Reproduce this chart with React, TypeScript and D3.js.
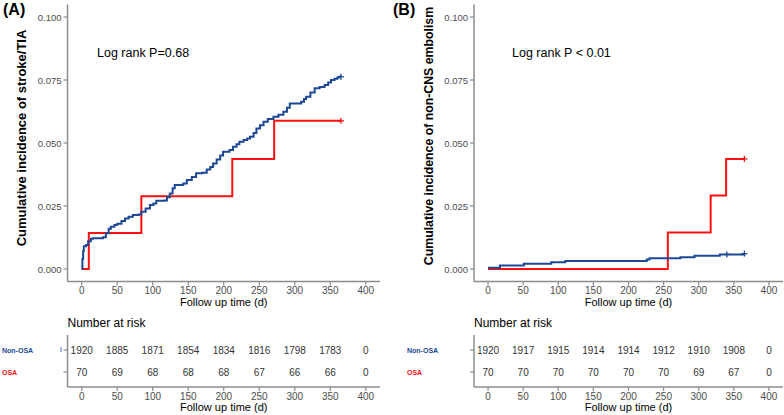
import React from "react";
import * as d3 from "d3";

// ---------- DATA ----------
const xTicks = [0, 50, 100, 150, 200, 250, 300, 350, 400];
const yTicks = [0, 0.025, 0.05, 0.075, 0.1];
const groups = ["Non-OSA", "OSA"];

// Panel A: stroke/TIA
const A_nonOSA_t = [0, 1, 2, 3, 6, 9, 13, 16, 30, 34, 38, 41, 46, 50, 56, 61, 66, 72, 80, 84, 90, 96, 101, 105, 117, 120, 124, 128, 131, 143, 148, 155, 161, 170, 176, 181, 185, 190, 195, 199, 208, 213, 218, 222, 228, 233, 237, 242, 246, 251, 256, 262, 270, 277, 284, 289, 293, 309, 313, 316, 322, 328, 335, 342, 347, 351, 356, 360, 362, 365];
const A_nonOSA_v = [0, 0.004, 0.007, 0.009, 0.0095, 0.011, 0.012, 0.0122, 0.0126, 0.0142, 0.016, 0.0168, 0.0175, 0.018, 0.019, 0.02, 0.0207, 0.0214, 0.0216, 0.0227, 0.024, 0.0254, 0.026, 0.0271, 0.0272, 0.0285, 0.03, 0.032, 0.0333, 0.0339, 0.0353, 0.0365, 0.038, 0.0382, 0.0395, 0.0405, 0.0419, 0.0435, 0.045, 0.0465, 0.0472, 0.0485, 0.0495, 0.0505, 0.0512, 0.0518, 0.0525, 0.054, 0.0558, 0.057, 0.0584, 0.0595, 0.0604, 0.0612, 0.0624, 0.064, 0.0657, 0.0664, 0.0675, 0.0684, 0.07, 0.0717, 0.0722, 0.073, 0.074, 0.075, 0.0755, 0.076, 0.0763, 0.0763];
const A_OSA_t = [0, 10, 84, 212, 271, 365];
const A_OSA_v = [0, 0.0143, 0.0289, 0.0437, 0.0588, 0.0588];
const A_censor_nonOSA = [365];
const A_censor_OSA = [365];
const A_risk_nonOSA = ["1920", "1885", "1871", "1854", "1834", "1816", "1798", "1783", "0"];
const A_risk_OSA = ["70", "69", "68", "68", "68", "67", "66", "66", "0"];

// Panel B: non-CNS embolism
const B_nonOSA_t = [0, 17, 51, 90, 110, 226, 230, 274, 294, 330, 365];
const B_nonOSA_v = [0.0005, 0.0014, 0.0021, 0.0027, 0.0032, 0.0038, 0.0043, 0.0047, 0.0053, 0.0058, 0.0061];
const B_OSA_t = [0, 256, 317, 339, 365];
const B_OSA_v = [0, 0.0145, 0.0292, 0.0437, 0.0437];
const B_censor_nonOSA = [340, 365];
const B_censor_OSA = [365];
const B_risk_nonOSA = ["1920", "1917", "1915", "1914", "1914", "1912", "1910", "1908", "0"];
const B_risk_OSA = ["70", "70", "70", "70", "70", "70", "69", "67", "0"];

const BLUE = "#1c4896";
const RED = "#ff1010";
const AXIS = "#8c8c8c";
const TICKTXT = "#4d4d4d";
const FONT = "'Liberation Sans', Arial, sans-serif";

type PanelProps = {
  letter: string;
  letterX: number;
  axisX: number;
  xEnd: number;
  yTitle: string;
  yTitleX: number;
  yTitleY: number;
  yTitleSize: number;
  logRank: string;
  logRankX: number;
  blueT: number[]; blueV: number[];
  redT: number[]; redV: number[];
  blueCensor: number[]; redCensor: number[];
  riskBlue: string[]; riskRed: string[];
  labelX: number;
  blueTick: boolean;
};

function Panel(p: PanelProps) {
  const x = d3.scaleLinear().domain([-20, 420]).range([p.axisX, p.xEnd]);
  const y = d3.scaleLinear().domain([-0.005, 0.105]).range([281.6, 4.4]);
  const rowY = d3.scalePoint<string>().domain(groups).range([350, 372]);
  const line = d3.line<[number, number]>().x(d => x(d[0])).y(d => y(d[1])).curve(d3.curveStepAfter);
  const bluePts = p.blueT.map((t, i) => [t, p.blueV[i]] as [number, number]);
  const redPts = p.redT.map((t, i) => [t, p.redV[i]] as [number, number]);
  const valAt = (ts: number[], vs: number[], t: number) => {
    let v = vs[0];
    ts.forEach((tt, i) => { if (tt <= t) v = vs[i]; });
    return v;
  };
  const plus = (cx: number, cy: number, col: string, k: string) => (
    <g key={k} stroke={col} strokeWidth={1.3}>
      <line x1={cx - 3} x2={cx + 3} y1={cy} y2={cy} />
      <line x1={cx} x2={cx} y1={cy - 3} y2={cy + 3} />
    </g>
  );
  return (
    <g fontFamily={FONT}>
      <text x={p.letterX} y={15} fontSize={16} fontWeight="bold" fill="#000">{p.letter}</text>
      {/* y title */}
      <text transform={`translate(${p.yTitleX},${p.yTitleY}) rotate(-90)`} textAnchor="middle" fontSize={p.yTitleSize} fontWeight="bold" fill="#000">{p.yTitle}</text>
      {/* axes */}
      <line x1={p.axisX} x2={p.axisX} y1={4.4} y2={281.6} stroke={AXIS} strokeWidth={1.5} />
      <line x1={p.axisX} x2={p.xEnd} y1={281.6} y2={281.6} stroke={AXIS} strokeWidth={1.5} />
      {yTicks.map(t => (
        <g key={t}>
          <line x1={p.axisX - 4} x2={p.axisX} y1={y(t)} y2={y(t)} stroke={AXIS} strokeWidth={1.2} />
          <text x={p.axisX - 6} y={y(t) + 3.5} textAnchor="end" fontSize={9.5} fill={TICKTXT}>{d3.format(".3f")(t)}</text>
        </g>
      ))}
      {xTicks.map(t => (
        <g key={t}>
          <line x1={x(t)} x2={x(t)} y1={281.6} y2={285.6} stroke={AXIS} strokeWidth={1.2} />
          <text x={x(t)} y={294} textAnchor="middle" fontSize={10} fill={TICKTXT}>{t}</text>
        </g>
      ))}
      <text x={(p.axisX + p.xEnd) / 2} y={306} textAnchor="middle" fontSize={11} fill="#000">Follow up time (d)</text>
      <text x={p.logRankX} y={57} fontSize={12.5} fill="#000">{p.logRank}</text>
      {/* curves */}
      <path d={line(redPts) || ""} fill="none" stroke={RED} strokeWidth={2} />
      <path d={line(bluePts) || ""} fill="none" stroke={BLUE} strokeWidth={2} />
      {p.redCensor.map((t, i) => plus(x(t), y(valAt(p.redT, p.redV, t)), RED, "r" + i))}
      {p.blueCensor.map((t, i) => plus(x(t), y(valAt(p.blueT, p.blueV, t)), BLUE, "b" + i))}
      {/* risk table */}
      <text x={p.axisX} y={327} fontSize={12} fill="#000">Number at risk</text>
      <line x1={p.axisX} x2={p.axisX} y1={335} y2={387} stroke={AXIS} strokeWidth={1.5} />
      <line x1={p.axisX} x2={p.xEnd} y1={387} y2={387} stroke={AXIS} strokeWidth={1.5} />
      {groups.map(g => (
        <line key={g} x1={p.axisX - 4} x2={p.axisX} y1={rowY(g)} y2={rowY(g)} stroke={AXIS} strokeWidth={1.2} />
      ))}
      {p.blueTick && <line x1={61} x2={61} y1={rowY("Non-OSA")! - 3} y2={rowY("Non-OSA")! + 2} stroke="#4a7bd0" strokeWidth={1} />}
      <text x={p.labelX} y={rowY("Non-OSA")! + 2.5} fontSize={7} fontWeight="bold" fill={BLUE}>Non-OSA</text>
      <text x={p.labelX} y={rowY("OSA")! + 2.5} fontSize={7} fontWeight="bold" fill={RED}>OSA</text>
      {xTicks.map((t, i) => (
        <g key={t}>
          <text x={x(t)} y={rowY("Non-OSA")! + 3.5} textAnchor="middle" fontSize={10} fill="#333">{p.riskBlue[i]}</text>
          <text x={x(t)} y={rowY("OSA")! + 3.5} textAnchor="middle" fontSize={10} fill="#333">{p.riskRed[i]}</text>
          <line x1={x(t)} x2={x(t)} y1={387} y2={391} stroke={AXIS} strokeWidth={1.2} />
          <text x={x(t)} y={399.5} textAnchor="middle" fontSize={10} fill={TICKTXT}>{t}</text>
        </g>
      ))}
      <text x={(p.axisX + p.xEnd) / 2} y={411} textAnchor="middle" fontSize={11} fill="#000">Follow up time (d)</text>
    </g>
  );
}

export default function App() {
  return (
    <svg width={784} height={415} style={{ position: "absolute", left: 0, top: 0, background: "#fff" }}>
      <rect width={784} height={415} fill="#fff" />
      <Panel letter="(A)" letterX={3} axisX={67.5} xEnd={380} yTitle="Cumulative incidence of stroke/TIA" yTitleX={26} yTitleY={138} yTitleSize={13}
        logRank="Log rank P=0.68" logRankX={97}
        blueT={A_nonOSA_t} blueV={A_nonOSA_v} redT={A_OSA_t} redV={A_OSA_v}
        blueCensor={A_censor_nonOSA} redCensor={A_censor_OSA}
        riskBlue={A_risk_nonOSA} riskRed={A_risk_OSA} labelX={2} blueTick={true} />
      <Panel letter="(B)" letterX={393} axisX={474} xEnd={783} yTitle="Cumulative incidence of non-CNS embolism" yTitleX={433} yTitleY={136} yTitleSize={12.3}
        logRank="Log rank P < 0.01" logRankX={512}
        blueT={B_nonOSA_t} blueV={B_nonOSA_v} redT={B_OSA_t} redV={B_OSA_v}
        blueCensor={B_censor_nonOSA} redCensor={B_censor_OSA}
        riskBlue={B_risk_nonOSA} riskRed={B_risk_OSA} labelX={407} blueTick={false} />
    </svg>
  );
}
